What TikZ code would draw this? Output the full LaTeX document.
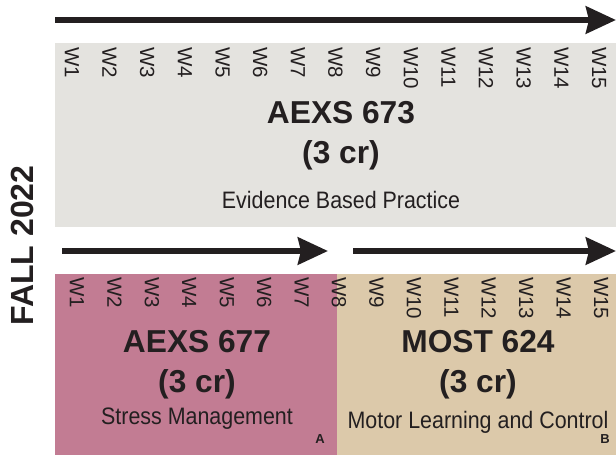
\documentclass[tikz,border=0pt]{standalone}
\usepackage{fontspec}
\setmainfont{Liberation Sans}
\newfontfamily\narrowfont{Liberation Sans}[FakeStretch=0.9]
\usetikzlibrary{arrows.meta}
\definecolor{boxgray}{HTML}{E4E3DF}
\definecolor{boxpink}{HTML}{C27C93}
\definecolor{boxtan}{HTML}{DCC9AA}
\definecolor{ink}{HTML}{231F20}
\tikzset{
  timearrow/.style={line width=6pt, draw=ink, -{Stealth[length=30pt,width=27pt,inset=3pt]}},
  weeklbl/.style={rotate=-90, anchor=west, inner sep=0pt, text=ink, font=\fontsize{20.5}{22}\selectfont},
  titlelbl/.style={anchor=base, inner sep=0pt, text=ink, font=\fontsize{31.7}{34}\selectfont\bfseries},
  sublbl/.style={anchor=base, inner sep=0pt, text=ink, font=\narrowfont\fontsize{23.8}{26}\selectfont},
  cornerlbl/.style={anchor=base, inner sep=0pt, text=ink, font=\fontsize{13}{14}\selectfont\bfseries}
}
\begin{document}
\begin{tikzpicture}[x=1pt,y=-1pt]
\useasboundingbox (0,0) rectangle (616,455);
% boxes
\fill[boxgray] (55,43) rectangle (616,227);
\fill[boxpink] (55,274) rectangle (337,455);
\fill[boxtan] (337,274) rectangle (616,455);
% arrows
\coordinate (t0) at (55,20);
\coordinate (t1) at (616,20);
\coordinate (a0) at (62,251);
\coordinate (a1) at (328,251);
\coordinate (b0) at (353,251);
\coordinate (b1) at (616,251);
\draw[timearrow] (t0) -- (t1);
\draw[timearrow] (a0) -- (a1);
\draw[timearrow] (b0) -- (b1);
% week labels
\foreach \i in {1,...,15}{
  \node[weeklbl] (tw\i) at ({72+(\i-1)*37.65},47) {W\i};
  \node[weeklbl] (bw\i) at ({77+(\i-1)*37.43},277) {W\i};
}
% texts top
\node[titlelbl] (c673) at (341,123.3) {AEXS 673};
\node[titlelbl] (c673cr) at (341,163.5) {(3 cr)};
\node[sublbl] (c673n) at (341,208.3) {Evidence Based Practice};
% texts bottom
\node[titlelbl] (c677) at (197,352.3) {AEXS 677};
\node[titlelbl] (c677cr) at (197,392.3) {(3 cr)};
\node[sublbl] (c677n) at (197,424.3) {Stress Management};
\node[titlelbl] (c624) at (478,352.3) {MOST 624};
\node[titlelbl] (c624cr) at (478,392.3) {(3 cr)};
\node[sublbl] (c624n) at (478,428.3) {Motor Learning and Control};
\node[cornerlbl] (la) at (320,443.7) {A};
\node[cornerlbl] (lb) at (605,443.7) {B};
% semester
\node[rotate=90, inner sep=0pt, text=ink, font=\fontsize{32}{34}\selectfont\bfseries] (sem) at (22,245.5) {FALL 2022};
\end{tikzpicture}
\end{document}
